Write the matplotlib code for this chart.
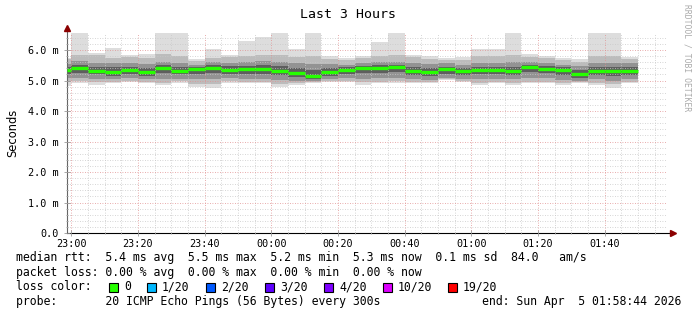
import numpy as np
import matplotlib
matplotlib.use("Agg")
import matplotlib.pyplot as plt
from matplotlib.patches import Rectangle
from matplotlib.ticker import MultipleLocator, FuncFormatter

# minutes relative to 23:00; first slot is the partial one 22:58:44 - 23:00
edges = [-1.27] + list(range(0, 175, 5))
xtick_pos = [0, 20, 40, 60, 80, 100, 120, 140, 160]
xtick_labels = ["23:00", "23:20", "23:40", "00:00", "00:20", "00:40", "01:00", "01:20", "01:40"]

# values in ms, one per 5 min slot
median = [5.34, 5.42, 5.33, 5.29, 5.34, 5.29, 5.40, 5.33, 5.37, 5.41, 5.36, 5.37,
          5.37, 5.33, 5.25, 5.16, 5.27, 5.34, 5.40, 5.41, 5.46, 5.32, 5.28, 5.37,
          5.32, 5.36, 5.36, 5.33, 5.46, 5.39, 5.34, 5.22, 5.32, 5.30, 5.33]
ping_max = [5.75, 6.60, 5.90, 6.07, 5.84, 5.88, 6.60, 6.60, 5.70, 6.05, 5.84, 6.30,
            6.42, 6.60, 6.02, 6.60, 5.80, 5.73, 5.80, 6.27, 6.60, 5.84, 5.80, 5.73,
            5.76, 6.02, 6.02, 6.60, 5.87, 5.80, 5.73, 5.70, 6.60, 6.60, 5.78]
upper2 = [5.70, 5.83, 5.83, 5.75, 5.76, 5.74, 5.87, 5.80, 5.64, 5.75, 5.76, 5.80,
          5.85, 5.83, 5.78, 5.80, 5.72, 5.67, 5.74, 5.80, 5.84, 5.76, 5.72, 5.67,
          5.68, 5.82, 5.80, 5.84, 5.78, 5.74, 5.66, 5.62, 5.80, 5.82, 5.70]
upper3 = [5.55, 5.63, 5.58, 5.58, 5.56, 5.55, 5.62, 5.58, 5.52, 5.60, 5.58, 5.62,
          5.64, 5.62, 5.57, 5.55, 5.55, 5.52, 5.56, 5.60, 5.62, 5.56, 5.55, 5.56,
          5.52, 5.58, 5.58, 5.60, 5.60, 5.58, 5.52, 5.48, 5.56, 5.58, 5.56]
upper4 = [5.45, 5.50, 5.46, 5.44, 5.45, 5.42, 5.50, 5.46, 5.45, 5.50, 5.47, 5.48,
          5.50, 5.47, 5.42, 5.36, 5.42, 5.44, 5.48, 5.50, 5.52, 5.44, 5.42, 5.46,
          5.42, 5.46, 5.46, 5.46, 5.52, 5.48, 5.44, 5.36, 5.44, 5.44, 5.45]
lower4 = [5.22, 5.26, 5.20, 5.16, 5.22, 5.16, 5.24, 5.20, 5.22, 5.24, 5.22, 5.22,
          5.22, 5.18, 5.12, 5.04, 5.14, 5.20, 5.24, 5.25, 5.28, 5.18, 5.15, 5.22,
          5.18, 5.20, 5.20, 5.18, 5.28, 5.24, 5.18, 5.10, 5.18, 5.14, 5.18]
lower3 = [5.08, 5.10, 5.05, 5.05, 5.08, 5.04, 5.06, 5.06, 5.05, 5.06, 5.08, 5.06,
          5.06, 5.02, 5.00, 4.98, 5.04, 5.08, 5.06, 5.08, 5.10, 5.05, 5.03, 5.10,
          5.06, 5.04, 5.06, 5.04, 5.10, 5.08, 5.03, 5.00, 5.04, 5.00, 5.04]
lower2 = [4.95, 4.98, 4.95, 4.96, 5.00, 4.96, 4.93, 4.97, 4.90, 4.88, 4.98, 4.96,
          4.96, 4.90, 4.92, 4.94, 4.99, 5.00, 4.94, 4.96, 4.97, 4.96, 4.96, 5.06,
          4.99, 4.93, 4.96, 4.93, 4.96, 4.96, 4.92, 4.94, 4.93, 4.88, 4.96]
ping_min = [4.82, 4.93, 4.86, 4.91, 4.96, 4.91, 4.85, 4.91, 4.80, 4.76, 4.91, 4.91,
            4.91, 4.80, 4.87, 4.91, 4.96, 4.96, 4.87, 4.91, 4.91, 4.91, 4.91, 5.03,
            4.96, 4.87, 4.91, 4.87, 4.91, 4.91, 4.87, 4.91, 4.87, 4.77, 4.91]

loss_labels = ["0", "1/20", "2/20", "3/20", "4/20", "10/20", "19/20"]
loss_colors = ["#26ff00", "#00b8ff", "#0059ff", "#5e00ff", "#7e00ff", "#dd00ff", "#ff0000"]

mono = "DejaVu Sans Mono"
W, H = 697, 315
fig = plt.figure(figsize=(W / 100, H / 100), dpi=100)
ax = fig.add_axes([67 / W, 82 / H, 600 / W, 200 / H])

lefts = np.array(edges[:-1], dtype=float)
widths = np.diff(edges)
bands = [(ping_min, ping_max, "#dddddd"),
         (lower2, upper2, "#bcbcbc"),
         (lower3, upper3, "#939393"),
         (lower4, upper4, "#5e5e5e")]
for lo, hi, col in bands:
    lo = np.array(lo)
    hi = np.array(hi)
    ax.bar(lefts, hi - lo, bottom=lo, width=widths, align="edge",
           color=col, linewidth=0, zorder=1)

ax.hlines(median, lefts, lefts + widths, color="#26ff00", linewidth=2.4, zorder=4)

ax.set_xlim(-1.27, 178.73)
ax.set_ylim(0, 6.56)

ax.xaxis.set_major_locator(MultipleLocator(20))
ax.xaxis.set_minor_locator(MultipleLocator(5))
ax.set_xticks(xtick_pos)
ax.set_xticklabels(xtick_labels)
ax.yaxis.set_major_locator(MultipleLocator(1))
ax.yaxis.set_minor_locator(MultipleLocator(0.2))
ax.yaxis.set_major_formatter(FuncFormatter(lambda v, p: "0.0" if v == 0 else f"{v:.1f} m"))

ax.set_axisbelow(False)
ax.grid(which="major", color="#e09090", linestyle=(0, (1, 2)), linewidth=0.6)
ax.grid(which="minor", color="#c8c8c8", linestyle=(0, (1, 2)), linewidth=0.6)

for lab in ax.get_xticklabels() + ax.get_yticklabels():
    lab.set_fontfamily(mono)
    lab.set_fontsize(7.3)
ax.tick_params(which="both", direction="inout", color="#999999", pad=2)
ax.tick_params(which="major", length=4, width=0.6)
ax.tick_params(which="minor", length=2, width=0.6)
ax.tick_params(axis="y", pad=4)

for s in ["top", "right"]:
    ax.spines[s].set_visible(False)
ax.spines["left"].set_color("#666666")
ax.spines["bottom"].set_color("#000000")
ax.spines["left"].set_bounds(0, 6.63)
ax.spines["bottom"].set_bounds(-1.27, 180.5)
ax.plot([0], [1.0 + 5 / 200], marker="^", color="#8b0000", markersize=4,
        transform=ax.transAxes, clip_on=False, zorder=6)
ax.plot([1.0 + 6 / 600], [0], marker=">", color="#8b0000", markersize=4,
        transform=ax.transAxes, clip_on=False, zorder=6)

ax.set_ylabel("Seconds", fontsize=8.3, labelpad=6)

fig.text(348 / W, 1 - 14 / H, "Last 3 Hours", family=mono, fontsize=9.5,
         ha="center", va="center")
fig.text(687 / W, 1 - 4 / H, "RRDTOOL / TOBI OETIKER", family=mono, fontsize=5.8,
         color="#aaaaaa", rotation=-90, ha="center", va="top")

def row(x, y, s, ha="left"):
    fig.text(x / W, 1 - y / H, s, family=mono, fontsize=8.3, ha=ha, va="center")

row(16, 258, "median rtt:  5.4 ms avg  5.5 ms max  5.2 ms min  5.3 ms now  0.1 ms sd  84.0   am/s")
row(16, 272.5, "packet loss: 0.00 % avg  0.00 % max  0.00 % min  0.00 % now")
row(16, 287, "loss color:")
box_x = [109, 147, 206, 265, 324, 383, 448]
for bx, lab, col in zip(box_x, loss_labels, loss_colors):
    fig.patches.append(Rectangle((bx / W, 1 - 291.5 / H), 9 / W, 9 / H,
                                 transform=fig.transFigure, facecolor=col,
                                 edgecolor="black", linewidth=0.8))
    row(bx + 15, 287, lab)
row(16, 301, "probe:       20 ICMP Echo Pings (56 Bytes) every 300s")
row(681, 301, "end: Sun Apr  5 01:58:44 2026", ha="right")

fig.savefig("out.png", dpi=100)
